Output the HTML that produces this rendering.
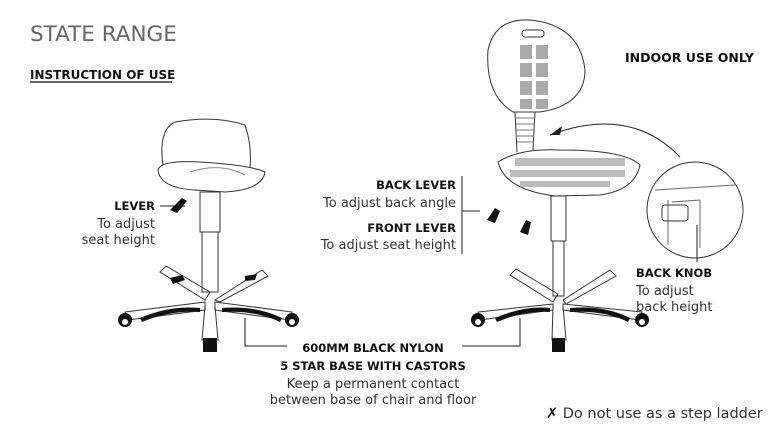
<!DOCTYPE html>
<html><head><style>
body{margin:0;width:777px;height:426px;background:#fff;overflow:hidden;font-family:"DejaVu Sans","Liberation Sans",sans-serif;}
svg{position:absolute;left:0;top:0}
text{font-family:"DejaVu Sans","Liberation Sans",sans-serif;fill:#222}
.b{font-weight:bold;font-size:11.5px;fill:#111}
.n{font-size:13px;fill:#333}
</style></head><body>
<svg width="777" height="426" viewBox="0 0 777 426">
<text x="30" y="41" style="font-size:21.5px;fill:#666">STATE RANGE</text>
<text x="30" y="79" class="b" style="font-size:12px">INSTRUCTION OF USE</text>
<line x1="30" y1="82" x2="172" y2="82" stroke="#111" stroke-width="1.2"/>
<text x="625" y="62" class="b" style="font-size:12.5px">INDOOR USE ONLY</text>

<g fill="none" stroke="#333" stroke-width="1">
<path d="M163 165 Q158 130 175 122 Q215 115 245 125 Q252 145 250 168"/>
<path d="M158 170 Q160 160 200 162 Q250 165 265 172 Q262 190 225 192 L195 190 Q160 188 158 170Z"/>
<path d="M190 172 q30 -10 55 3" stroke="#888"/>
<rect x="200" y="192" width="20" height="40"/>
<rect x="202" y="232" width="16" height="60"/>
<path d="M205 300 L160 272 L166 266 L210 292 Z"/>
<path d="M215 300 L262 270 L268 276 L220 302Z"/>
<path d="M205 302 L125 312 L128 320 L205 310Z"/>
<path d="M215 302 L292 312 L290 320 L215 310Z"/>
<path d="M205 306 L202 340 L218 340 L215 306"/>
<path d="M513 112 Q485 95 488 50 Q495 18 530 20 Q580 25 585 70 Q585 105 540 112 Z"/>
<rect x="522" y="30" width="22" height="7" rx="3"/>
<path d="M515 112 L517 152 M535 112 L533 150"/>
<path d="M516 118 h19 M516 124 h19 M516 130 h18 M516 136 h18 M517 142 h17" stroke="#777"/>
<path d="M498 162 Q520 148 560 150 Q625 150 640 165 Q635 190 600 195 L555 196 Q505 190 498 162Z"/>
<rect x="551" y="196" width="15" height="45"/>
<rect x="553" y="241" width="11" height="55"/>
<path d="M553 302 L510 275 L516 269 L558 294Z"/>
<path d="M563 300 L610 270 L616 276 L566 304Z"/>
<path d="M553 304 L478 312 L480 320 L553 310Z"/>
<path d="M563 304 L642 312 L640 320 L563 310Z"/>
<path d="M553 306 L552 340 L566 340 L563 306"/>
<circle cx="695" cy="210" r="48"/>
<path d="M655 190 L735 185 M668 200 L668 245 M672 202 L700 200 L700 248" stroke="#666"/>
<rect x="662" y="205" width="26" height="16" rx="3"/>
<path d="M680 157 Q630 105 550 135" stroke="#222"/>
<line x1="697" y1="225" x2="697" y2="262" stroke="#222"/>
<line x1="160" y1="206" x2="185" y2="206" stroke="#222"/>
<path d="M462 176 V254 M462 211 H480" stroke="#222"/>
<path d="M245 318 V346 H287" stroke="#222"/>
<path d="M520 318 V346 H462" stroke="#222"/>
</g>
<path d="M550 135 l12 -9 l-2 9 Z" fill="#222"/>
<g fill="#aaa">
<rect x="520" y="45" width="12" height="14"/><rect x="536" y="45" width="12" height="14"/>
<rect x="520" y="63" width="12" height="14"/><rect x="536" y="63" width="12" height="14"/>
<rect x="520" y="81" width="12" height="14"/><rect x="536" y="81" width="12" height="14"/>
<rect x="520" y="99" width="12" height="10"/><rect x="536" y="99" width="12" height="10"/>
<path d="M515 158 h110 v8 h-110z M510 170 h115 v7 h-115z M520 181 h90 v6 h-90z" opacity=".8"/>
</g>
<g fill="#111">
<path d="M170 210 l12 -12 l5 3 l-10 12z"/>
<path d="M140 318 Q170 305 200 308 L200 312 Q170 310 142 322Z"/>
<path d="M222 308 Q255 305 282 318 L280 322 Q255 310 222 312Z"/>
<path d="M170 278 l12 -3 l3 5 l-12 4z M245 276 l12 -2 l-2 6 l-10 1z"/>
<circle cx="125" cy="320" r="7"/><circle cx="292" cy="320" r="7"/>
<rect x="203" y="338" width="14" height="14"/>
<path d="M487 220 l8 -12 l5 3 l-5 12z M520 232 l6 -12 l5 2 l-3 13z"/>
<path d="M495 318 Q525 305 550 308 L550 312 Q525 310 497 322Z"/>
<path d="M570 308 Q605 305 630 318 L628 322 Q605 310 570 312Z"/>
<circle cx="478" cy="320" r="7"/><circle cx="642" cy="320" r="7"/>
<rect x="552" y="338" width="13" height="14"/>
</g>
<g fill="#fff"><circle cx="125" cy="322" r="3"/><circle cx="292" cy="322" r="3"/><circle cx="478" cy="322" r="3"/><circle cx="642" cy="322" r="3"/></g>

<text x="155" y="210" class="b" text-anchor="end">LEVER</text>
<text x="155" y="228" class="n" text-anchor="end">To adjust</text>
<text x="155" y="244" class="n" text-anchor="end">seat height</text>
<text x="456" y="189" class="b" text-anchor="end">BACK LEVER</text>
<text x="456" y="207" class="n" text-anchor="end">To adjust back angle</text>
<text x="456" y="232" class="b" text-anchor="end">FRONT LEVER</text>
<text x="456" y="249" class="n" text-anchor="end">To adjust seat height</text>
<text x="636" y="277" class="b">BACK KNOB</text>
<text x="636" y="295" class="n">To adjust</text>
<text x="636" y="311" class="n">back height</text>
<text x="373" y="352" class="b" text-anchor="middle">600MM BLACK NYLON</text>
<text x="373" y="370" class="b" text-anchor="middle">5 STAR BASE WITH CASTORS</text>
<text x="373" y="388" class="n" text-anchor="middle">Keep a permanent contact</text>
<text x="373" y="404" class="n" text-anchor="middle">between base of chair and floor</text>
<text x="546" y="418" style="font-size:14.5px;fill:#333"><tspan style="font-weight:bold;fill:#111">✗</tspan> Do not use as a step ladder</text>
</svg>
</body></html>
